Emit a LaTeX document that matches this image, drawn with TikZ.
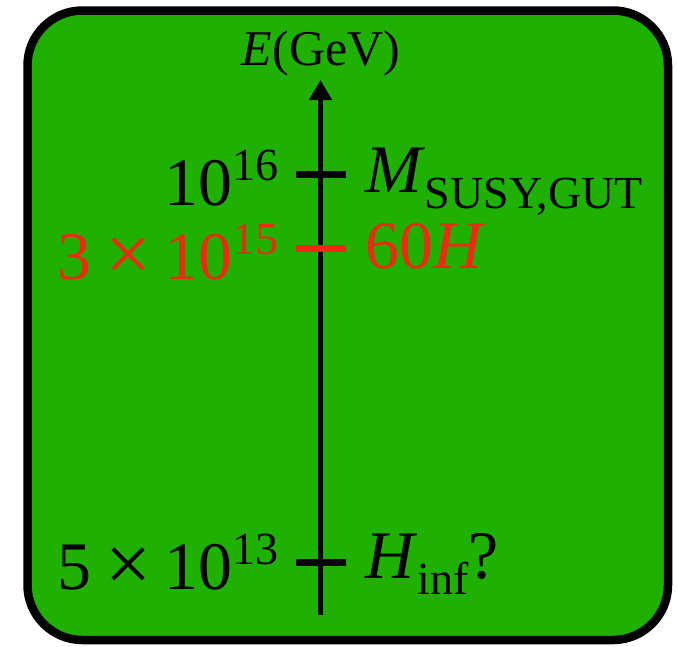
\documentclass[tikz,border=0pt]{standalone}
\usepackage{fontspec}
\setmainfont{Liberation Serif}
\usetikzlibrary{arrows.meta}
\definecolor{boxgreen}{RGB}{30,177,0}
\definecolor{labred}{RGB}{238,42,20}
\newcommand{\mainsz}{\fontsize{68}{72}\selectfont}
\newcommand{\smallsz}{\fontsize{46}{50}\selectfont}
\newcommand{\myup}[1]{\raisebox{25pt}{\smallsz #1}}
\newcommand{\mydown}[1]{\raisebox{-16pt}{\smallsz #1}}
\newcommand{\mytimes}{\hspace{14pt}\raisebox{-2pt}{\scalebox{1.2}{×}}\hspace{13pt}}
\tikzset{
  lab/.style={inner sep=0pt, font=\mainsz},
  axisline/.style={line width=5pt},
  tick/.style={line width=7pt},
}
\begin{document}
\begin{tikzpicture}[x=1pt,y=-1pt]
\useasboundingbox (0,0) rectangle (677,646);
\draw[line width=8.5pt, fill=boxgreen, rounded corners=55pt] (27.5,10.5) rectangle (668,640);
\coordinate (bot) at (320.5,615);
\coordinate (top) at (320.5,80);
\draw[axisline, -{Triangle[length=20pt,width=22pt]}] (bot) -- (top);
\node[inner sep=0pt, anchor=base, font=\fontsize{50}{54}\selectfont] (title) at (321,65) {\textit{E}(GeV)};
% ticks
\coordinate (a1) at (296,174); \coordinate (b1) at (346,174);
\coordinate (a2) at (296,248); \coordinate (b2) at (346,248);
\coordinate (a3) at (296,562); \coordinate (b3) at (346,562);
\draw[tick] (a1) -- (b1);
\draw[tick, labred] (a2) -- (b2);
\draw[tick] (a3) -- (b3);
% left labels
\node[lab, anchor=base east] (l1) at (279,205) {10\myup{16}};
\node[lab, anchor=base east, text=labred] (l2) at (279,279) {3\mytimes 10\myup{15}};
\node[lab, anchor=base east] (l3) at (279,589) {5\mytimes 10\myup{13}};
% right labels
\node[lab, anchor=base west] (r1) at (365,192) {\textit{M}\mydown{SUSY,GUT}};
\node[lab, anchor=base west, text=labred] (r2) at (365,268) {60\textit{H}};
\node[lab, anchor=base west] (r3) at (365,578) {\textit{H}\mydown{inf}?};
\end{tikzpicture}
\end{document}
